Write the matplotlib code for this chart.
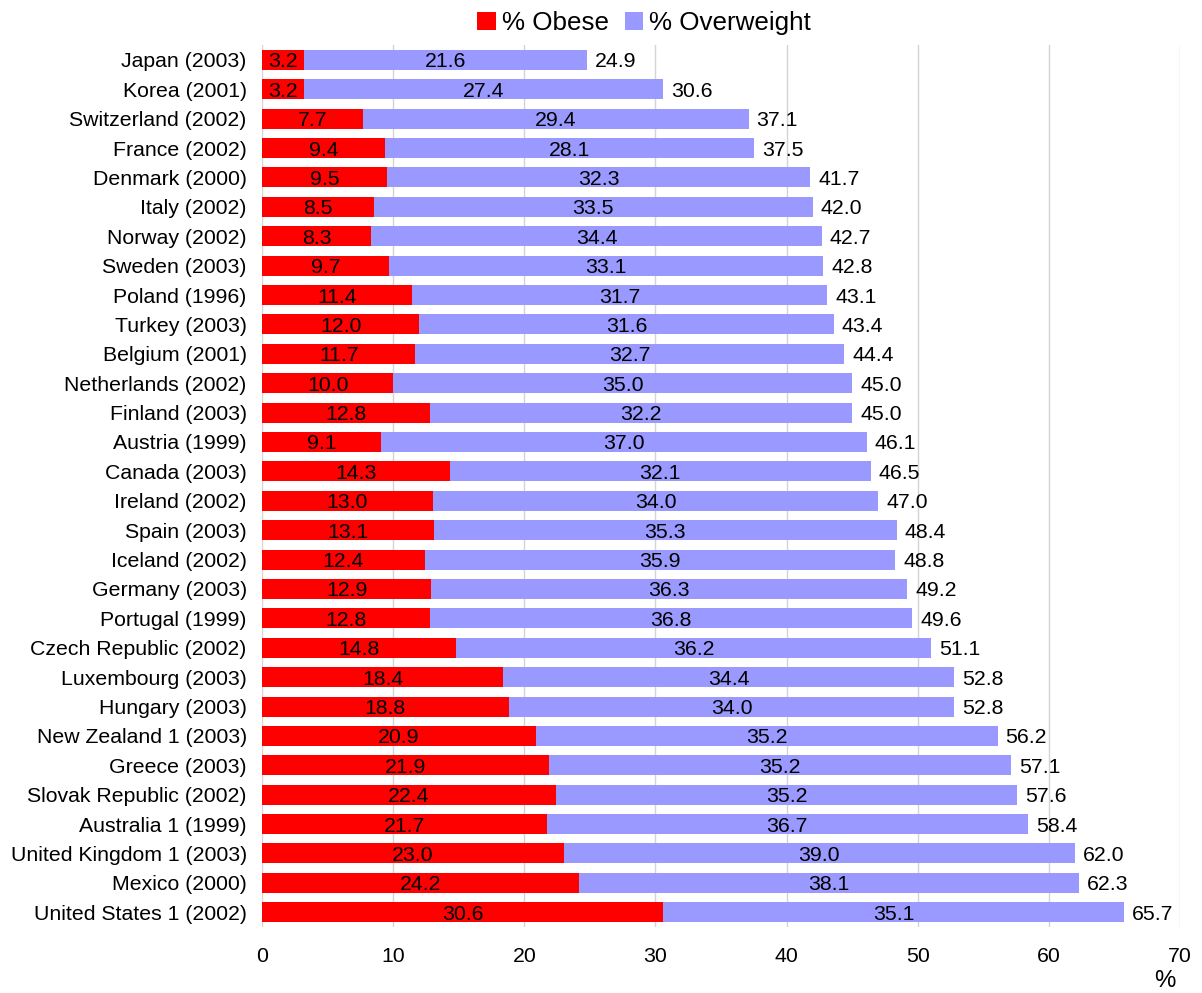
import numpy as np
import matplotlib
matplotlib.use("Agg")
import matplotlib.pyplot as plt

plt.rcParams["font.family"] = ["Liberation Sans", "DejaVu Sans"]

countries = [
    "Japan (2003)", "Korea (2001)", "Switzerland (2002)", "France (2002)",
    "Denmark (2000)", "Italy (2002)", "Norway (2002)", "Sweden (2003)",
    "Poland (1996)", "Turkey (2003)", "Belgium (2001)", "Netherlands (2002)",
    "Finland (2003)", "Austria (1999)", "Canada (2003)", "Ireland (2002)",
    "Spain (2003)", "Iceland (2002)", "Germany (2003)", "Portugal (1999)",
    "Czech Republic (2002)", "Luxembourg (2003)", "Hungary (2003)",
    "New Zealand 1 (2003)", "Greece (2003)", "Slovak Republic (2002)",
    "Australia 1 (1999)", "United Kingdom 1 (2003)", "Mexico (2000)",
    "United States 1 (2002)",
]
obese = [3.2, 3.2, 7.7, 9.4, 9.5, 8.5, 8.3, 9.7, 11.4, 12.0, 11.7, 10.0,
         12.8, 9.1, 14.3, 13.0, 13.1, 12.4, 12.9, 12.8, 14.8, 18.4, 18.8,
         20.9, 21.9, 22.4, 21.7, 23.0, 24.2, 30.6]
overweight = [21.6, 27.4, 29.4, 28.1, 32.3, 33.5, 34.4, 33.1, 31.7, 31.6,
              32.7, 35.0, 32.2, 37.0, 32.1, 34.0, 35.3, 35.9, 36.3, 36.8,
              36.2, 34.4, 34.0, 35.2, 35.2, 35.2, 36.7, 39.0, 38.1, 35.1]
total = [24.9, 30.6, 37.1, 37.5, 41.7, 42.0, 42.7, 42.8, 43.1, 43.4, 44.4,
         45.0, 45.0, 46.1, 46.5, 47.0, 48.4, 48.8, 49.2, 49.6, 51.1, 52.8,
         52.8, 56.2, 57.1, 57.6, 58.4, 62.0, 62.3, 65.7]
xticks = [0, 10, 20, 30, 40, 50, 60, 70]

RED = "#FF0000"
BLUE = "#9999FF"
FS = 15.3

fig = plt.figure(figsize=(12.02, 9.93), dpi=100)
ax = fig.add_axes([0.218, 0.0665, 0.7637, 0.888])

y = np.arange(len(countries))
obese = np.array(obese)
overweight = np.array(overweight)

b1 = ax.barh(y, obese, height=0.68, color=RED, label="% Obese", zorder=2)
b2 = ax.barh(y, overweight, left=obese, height=0.68, color=BLUE,
             label="% Overweight", zorder=2)

# segment values inside the bars, totals just past the bar end
for yi, o, w, t in zip(y, obese, overweight, total):
    ax.text(o / 2, yi, f"{o:.1f}", ha="center", va="center_baseline",
            fontsize=FS, zorder=3)
    ax.text(o + w / 2, yi, f"{w:.1f}", ha="center", va="center_baseline",
            fontsize=FS, zorder=3)
    ax.text(o + w + 0.6, yi, f"{t:.1f}", ha="left", va="center_baseline",
            fontsize=FS, zorder=3)

ax.set_xlim(0, 70)
ax.set_ylim(len(countries) - 0.5, -0.5)
ax.set_yticks(y)
ax.set_yticklabels(countries, fontsize=FS)
ax.set_xticks(xticks)
ax.set_xticklabels([str(v) for v in xticks], fontsize=FS)
ax.tick_params(axis="both", length=0)
ax.tick_params(axis="x", pad=14.5)
ax.tick_params(axis="y", pad=11)
ax.grid(axis="x", color="#d4d4d4", linewidth=1.0, zorder=0)
for s in ax.spines.values():
    s.set_visible(False)

fig.text(0.969, 0.001, "%", fontsize=FS + 2, ha="center", va="bottom")

fig.legend(handles=[b1, b2], loc="upper center", bbox_to_anchor=(0.536, 1.012),
           ncol=2, frameon=False, fontsize=18.7, handlelength=0.7,
           handleheight=0.7, handletextpad=0.25, columnspacing=0.6)

fig.savefig("out.png", dpi=100)
